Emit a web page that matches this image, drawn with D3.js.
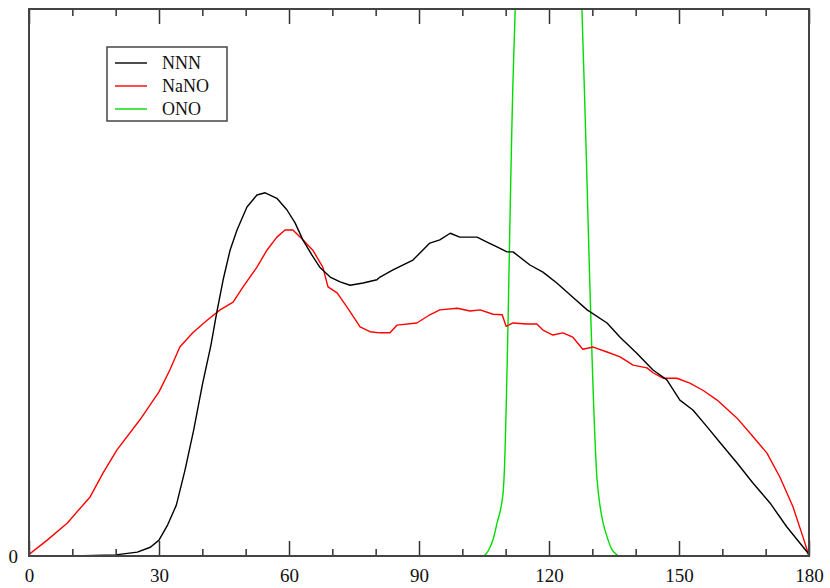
<!DOCTYPE html>
<html>
<head>
<meta charset="utf-8">
<script src="https://cdn.jsdelivr.net/npm/d3@7"></script>
<style>
body{margin:0;background:#fff;}
svg text{font-family:"Liberation Serif","Times New Roman",serif;}
</style>
</head>
<body>
<script>
// data (angle in degrees, height in arbitrary units, frame top = 100)
const nnnAngle = [0,10,15,20,25,28,30,32,34,36,38,40,42,43.3,44.8,46.4,48,50.3,52.6,54.5,57.2,59.5,61.4,63.2,65.3,67.1,69.5,71.8,74.1,77.1,80.3,81,84,88.6,92.5,94.8,97.2,99.4,101.8,103.4,105.7,108,110.3,111.7,115.6,118.6,121.8,125.5,128.8,133.4,136.4,140.2,144,147.2,150.2,153.2,156.5,159.5,163.4,167.1,171,174.9,179.8,180];
const nnnValue = [0,0,0.1,0.2,0.7,1.6,2.9,5.7,9.3,15.7,23,31.3,38.6,44.4,50.5,55.9,59.6,63.8,66.0,66.4,65.4,63.3,60.9,57.8,55.0,52.8,51.0,50.1,49.5,49.9,50.5,51.0,52.3,54.1,57.2,57.8,59.0,58.3,58.3,58.3,57.4,56.5,55.6,55.6,53.2,51.9,49.9,47.3,45.0,42.6,40.0,37.1,34.0,32.2,28.5,26.7,23.6,20.7,17.0,13.3,9.7,5.3,0.5,0];

const nanoAngle = [0,4.2,8.8,14.1,17.1,20.3,25.6,30,32.5,34.8,37.8,41.1,44.1,47.1,49.4,52.6,54.9,57.2,59.1,60.9,63.2,65.5,67.8,69,71.1,73.4,76.4,78.7,81,83.3,84.9,89.5,92.5,94.8,98.8,101.8,104.1,107.1,109.2,110.1,111.7,114.9,117.2,118.6,120.9,123.2,125.5,127.8,130.2,133.4,136.4,139.4,142.6,144,146.3,149.5,152.5,155.5,158.8,163.4,167.1,170.3,173.3,176.3,178.6,179.8,180];
const nanoValue = [0.3,2.9,6.0,10.8,15.2,19.4,24.9,30,34,38.2,40.8,43.1,45.0,46.4,49.2,52.8,55.9,58.3,59.6,59.6,57.8,55.9,52.8,49.2,48.1,45.5,41.9,41.0,40.8,40.8,42.2,42.6,44.1,45.0,45.3,44.8,45.0,44.2,44.1,42.0,42.6,42.4,42.4,41.3,40.4,40.8,40.0,37.8,38.2,37.3,36.4,34.9,34.4,33.5,32.5,32.5,31.6,30.3,28.5,25.2,21.8,18.8,14.4,9.0,3.5,0.5,0];

// ONO peak runs far above the frame; values above 100 are only a guess
const onoAngle = [0,104,104.8,105.5,106.4,107.2,108,109.4,109.6,111.7,112.2,114,120,126,127.6,128.1,131.1,131.8,132.5,133.4,134.5,135.7,136,180];
const onoValue = [0,0,0,0.4,1.6,3.3,6.0,11.5,13.9,87,100,160,260,160,100,87,13.9,9.0,6.0,3.5,1.2,0.2,0,0];

const xTicks = [0,30,60,90,120,150,180];
const xMinor = [10,20,40,50,70,80,100,110,130,140,160,170];
const legendNames = ['NNN','NaNO','ONO'];
const legendColors = ['#000000','#ff0000','#00dd00'];

let width = 830, height = 588;
let margin = {top:9, right:21, bottom:32, left:29};
let svg = d3.select('body').append('svg').attr('width',width).attr('height',height);

let x = d3.scaleLinear().domain([0,180]).range([margin.left, width-margin.right]);
let y = d3.scaleLinear().domain([0,100]).range([height-margin.bottom, margin.top]);

svg.append('clipPath').attr('id','plotclip').append('rect')
  .attr('x',x(0)).attr('y',y(100)).attr('width',x(180)-x(0)).attr('height',y(0)-y(100));

// lines
let line = d3.line().x(d=>x(d[0])).y(d=>y(d[1]));
let series = [
  {pts:d3.zip(nnnAngle,nnnValue), color:legendColors[0], curve:d3.curveLinear},
  {pts:d3.zip(nanoAngle,nanoValue), color:legendColors[1], curve:d3.curveLinear},
  {pts:d3.zip(onoAngle,onoValue), color:legendColors[2], curve:d3.curveMonotoneX}
];
let g = svg.append('g').attr('clip-path','url(#plotclip)');
// green drawn first, black last
[2,1,0].forEach(i=>{
  let s = series[i];
  g.append('path').attr('d',line.curve(s.curve)(s.pts))
    .attr('fill','none').attr('stroke',s.color).attr('stroke-width',1.4).attr('stroke-linejoin','round');
});

// axes
let axisColor = '#333';
let axBottom = svg.append('g').attr('transform',`translate(0,${y(0)})`)
  .call(d3.axisBottom(x).tickValues(xTicks).tickSize(-15).tickPadding(8).tickFormat(d3.format('d')));
let axBottomMinor = svg.append('g').attr('transform',`translate(0,${y(0)})`)
  .call(d3.axisBottom(x).tickValues(xMinor).tickSize(-7).tickFormat(''));
let axTop = svg.append('g').attr('transform',`translate(0,${y(100)})`)
  .call(d3.axisTop(x).tickValues(xTicks).tickSize(-15).tickFormat(''));
let axTopMinor = svg.append('g').attr('transform',`translate(0,${y(100)})`)
  .call(d3.axisTop(x).tickValues(xMinor).tickSize(-7).tickFormat(''));
let axLeft = svg.append('g').attr('transform',`translate(${x(0)},0)`)
  .call(d3.axisLeft(y).tickValues([0]).tickSize(0).tickPadding(11).tickFormat(d3.format('d')));

[axBottom,axBottomMinor,axTop,axTopMinor,axLeft].forEach(a=>{
  a.select('.domain').remove();
  a.selectAll('line').attr('stroke',axisColor).attr('stroke-width',1.5);
  a.selectAll('text').attr('font-size',19).attr('fill','#111').attr('font-family','"Liberation Serif",serif');
});
axBottom.selectAll('text').attr('dy','0.95em');

// frame
svg.append('rect').attr('x',x(0)).attr('y',y(100)).attr('width',x(180)-x(0)).attr('height',y(0)-y(100))
  .attr('fill','none').attr('stroke','#444').attr('stroke-width',2);

// legend
let lg = svg.append('g');
lg.append('rect').attr('x',107).attr('y',47).attr('width',120).attr('height',74)
  .attr('fill','#fff').attr('stroke','#444').attr('stroke-width',1.5);
legendNames.forEach((n,i)=>{
  let yy = 63 + i*23;
  lg.append('line').attr('x1',115).attr('x2',147).attr('y1',yy).attr('y2',yy)
    .attr('stroke',legendColors[i]).attr('stroke-width',1.4);
  lg.append('text').attr('x',162).attr('y',yy).attr('dy','0.35em').attr('font-size',18).attr('fill','#111').text(n);
});
</script>
</body>
</html>
